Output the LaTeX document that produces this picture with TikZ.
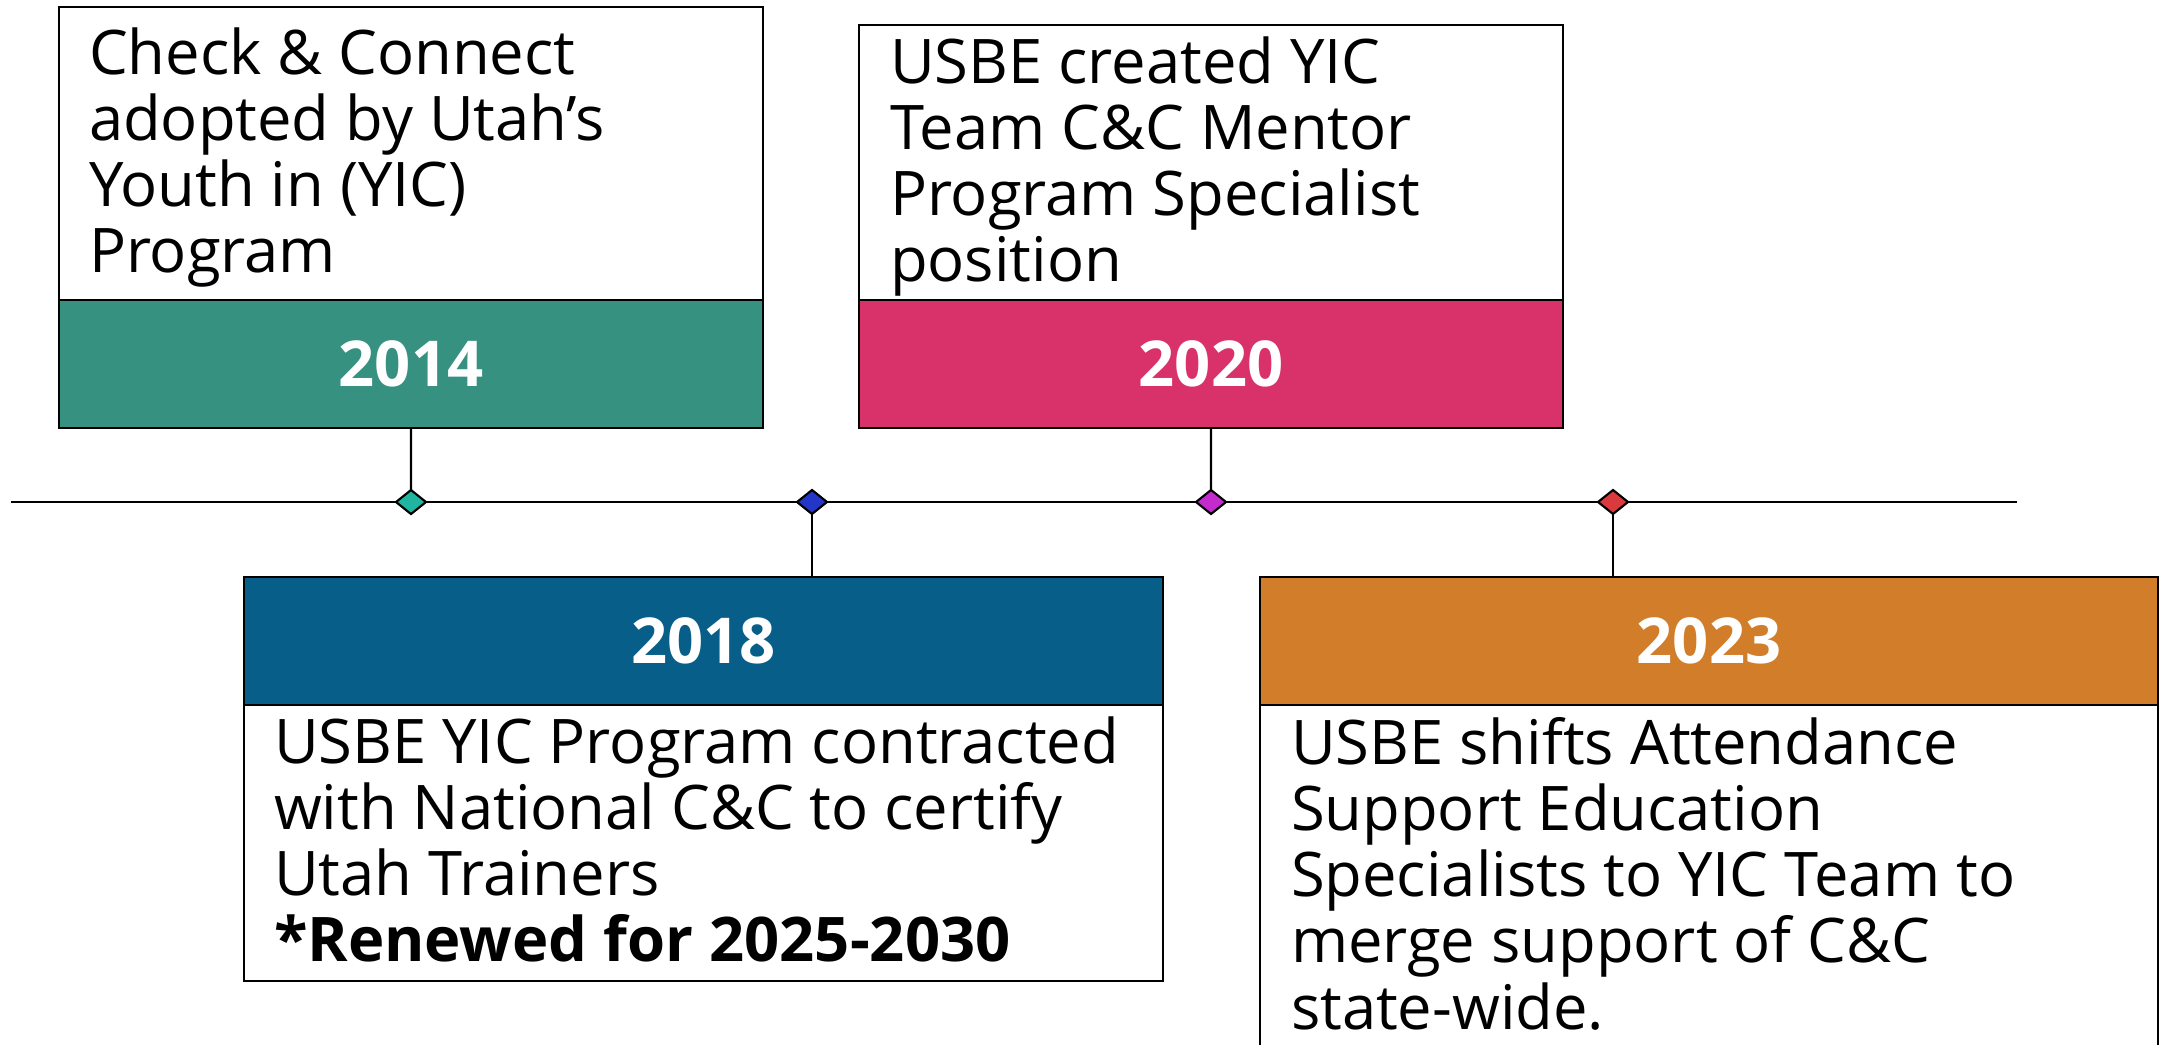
\documentclass[tikz,border=0pt]{standalone}
\usepackage{fontspec}
\setmainfont{Open Sans}
\usetikzlibrary{shapes.geometric}

\definecolor{band14}{RGB}{54,145,128}
\definecolor{band18}{RGB}{7,95,137}
\definecolor{band20}{RGB}{217,50,107}
\definecolor{band23}{RGB}{210,125,42}
\definecolor{dot14}{RGB}{31,181,160}
\definecolor{dot18}{RGB}{36,54,200}
\definecolor{dot20}{RGB}{196,43,206}
\definecolor{dot23}{RGB}{218,58,62}

\begin{document}
\begin{tikzpicture}[
        textpart/.style={draw,line width=0.8pt,fill=white,inner sep=0pt,outer sep=0pt,anchor=north west},
        yearband/.style={draw,line width=0.8pt,inner sep=0pt,outer sep=0pt,anchor=north west,
                         text=white,font=\fontsize{18pt}{20pt}\selectfont\bfseries},
        milestone/.style={diamond,draw,line width=0.6pt,inner sep=0pt,outer sep=0pt,
                          minimum width=0.3cm,minimum height=0.24cm},
        entry/.style={inner sep=0pt,outer sep=0pt,anchor=north west,align=left,
                      font=\fontsize{17.5pt}{18.86pt}\selectfont}
    ]
        \useasboundingbox (0,0) rectangle (21.61,-10.45);
        \clip (0,0) rectangle (21.61,-10.45);

        \coordinate (tl-start) at (0.11,-5.02);
        \coordinate (tl-end) at (20.17,-5.02);
        \draw[line width=0.6pt] (tl-start) -- (tl-end);

        \node[milestone,fill=dot14] (d14) at (4.11,-5.02) {};
        \node[milestone,fill=dot18] (d18) at (8.12,-5.02) {};
        \node[milestone,fill=dot20] (d20) at (12.11,-5.02) {};
        \node[milestone,fill=dot23] (d23) at (16.13,-5.02) {};

        \node[textpart,minimum width=7.04cm,minimum height=2.93cm] (t14) at (0.59,-0.07) {};
        \node[yearband,fill=band14,minimum width=7.04cm,minimum height=1.28cm] (y14) at (t14.south west) {2014};
        \node[entry] (x14) at (0.89,-0.213) {\rule{0pt}{15pt}Check \& Connect\\adopted by Utah’s\\Youth in (YIC)\\Program};

        \node[textpart,minimum width=7.04cm,minimum height=2.75cm] (t20) at (8.59,-0.25) {};
        \node[yearband,fill=band20,minimum width=7.04cm,minimum height=1.28cm] (y20) at (t20.south west) {2020};
        \node[entry] (x20) at (8.90,-0.303) {\rule{0pt}{15pt}USBE created YIC\\Team C\&C Mentor\\Program Specialist\\position};

        \node[yearband,fill=band18,minimum width=9.19cm,minimum height=1.28cm] (y18) at (2.44,-5.77) {2018};
        \node[textpart,minimum width=9.19cm,minimum height=2.76cm] (t18) at (y18.south west) {};
        \node[entry] (x18) at (2.74,-7.103) {\rule{0pt}{15pt}USBE YIC Program contracted\\with National C\&C to certify\\Utah Trainers\\\textbf{*Renewed for 2025-2030}};

        \node[yearband,fill=band23,minimum width=8.98cm,minimum height=1.28cm] (y23) at (12.60,-5.77) {2023};
        \node[textpart,minimum width=8.98cm,minimum height=4.00cm] (t23) at (y23.south west) {};
        \node[entry] (x23) at (12.91,-7.113) {\rule{0pt}{15pt}USBE shifts Attendance\\Support Education\\Specialists to YIC Team to\\merge support of C\&C\\state-wide.};

        \draw[line width=0.6pt] (y14.south) -- (d14.north);
        \draw[line width=0.6pt] (y20.south) -- (d20.north);
        \draw[line width=0.6pt] (d18.south) -- (d18.south |- y18.north);
        \draw[line width=0.6pt] (d23.south) -- (d23.south |- y23.north);
    \end{tikzpicture}
\end{document}
